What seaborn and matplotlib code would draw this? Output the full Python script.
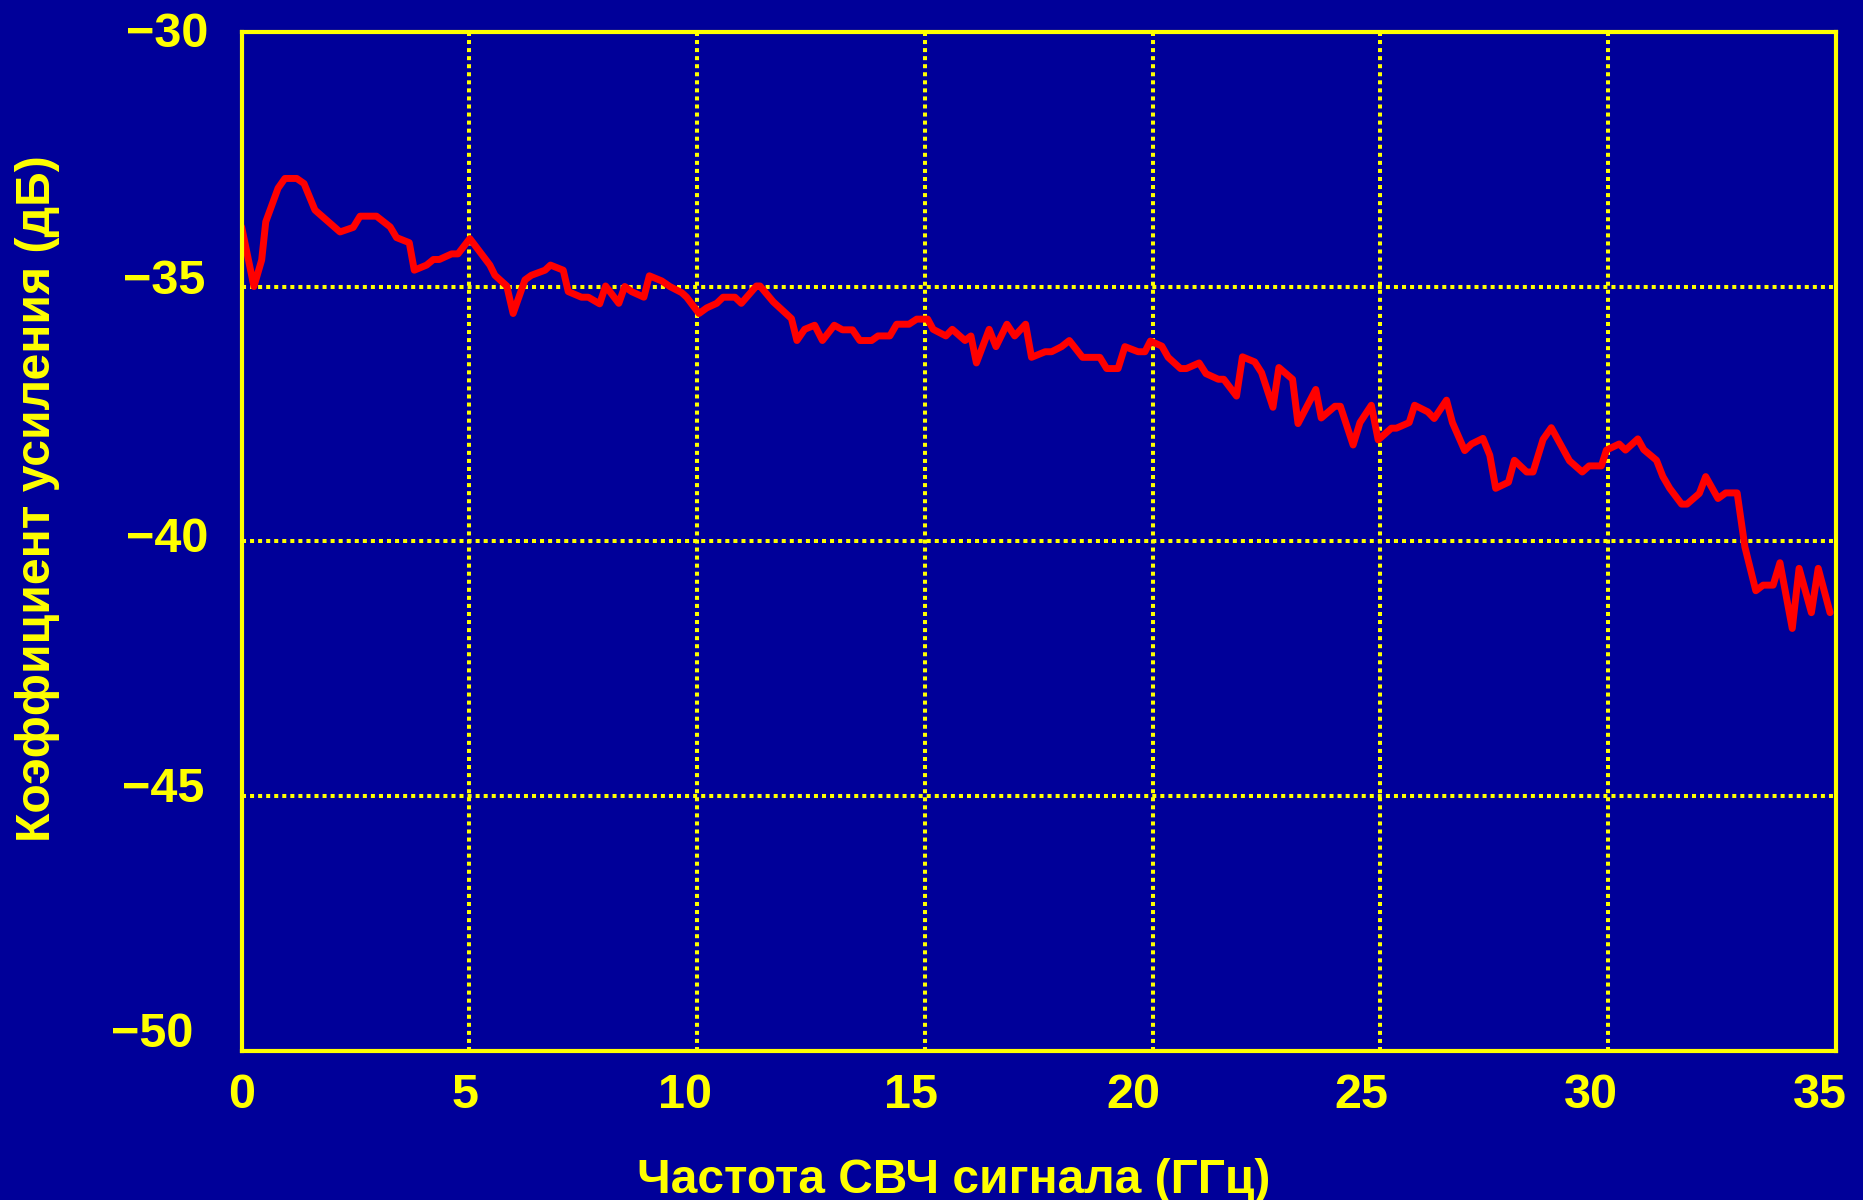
import matplotlib
matplotlib.use("Agg")
import matplotlib.pyplot as plt
import matplotlib.transforms as mtransforms
import seaborn as sns
import pandas as pd

# Gain of the microwave path versus frequency
freq_ghz = [
    0.00, 0.27, 0.44, 0.53, 0.80, 0.95, 1.21, 1.37, 1.61, 2.16, 2.45, 2.60, 2.96, 3.26,
    3.40, 3.68, 3.79, 4.06, 4.21, 4.34, 4.61, 4.75, 5.01, 5.45, 5.56, 5.82, 5.96, 6.22,
    6.36, 6.66, 6.78, 7.06, 7.17, 7.46, 7.61, 7.86, 7.99, 8.28, 8.41, 8.56, 8.83, 8.95,
    9.22, 9.40, 9.66, 9.77, 10.04, 10.21, 10.43, 10.57, 10.83, 10.97, 11.30, 11.38,
    11.67, 12.07, 12.19, 12.36, 12.58, 12.75, 13.01, 13.19, 13.41, 13.57, 13.83, 13.97,
    14.23, 14.38, 14.65, 14.82, 15.06, 15.18, 15.46, 15.60, 15.88, 16.01, 16.13, 16.41,
    16.56, 16.80, 16.97, 17.21, 17.34, 17.64, 17.78, 18.00, 18.17, 18.46, 18.84, 18.99,
    19.24, 19.39, 19.68, 19.83, 19.95, 20.20, 20.34, 20.61, 20.74, 21.02, 21.17, 21.44,
    21.56, 21.84, 21.97, 22.24, 22.39, 22.64, 22.77, 23.07, 23.19, 23.58, 23.70, 24.00,
    24.12, 24.40, 24.55, 24.80, 24.95, 25.24, 25.35, 25.63, 25.75, 26.04, 26.18, 26.45,
    26.58, 26.85, 27.00, 27.25, 27.40, 27.53, 27.81, 27.94, 28.21, 28.35, 28.57, 28.75,
    29.15, 29.43, 29.58, 29.85, 29.96, 30.24, 30.38, 30.65, 30.78, 31.06, 31.20, 31.35,
    31.61, 31.73, 32.00, 32.14, 32.41, 32.58, 32.83, 33.00, 33.24, 33.40, 33.62, 33.77,
    34.04, 34.19, 34.46, 34.61, 34.87,
]
gain_db = [
    -33.83, -35.00, -34.48, -33.73, -33.07, -32.88, -32.88, -32.98, -33.50, -33.93,
    -33.84, -33.62, -33.62, -33.83, -34.04, -34.14, -34.68, -34.58, -34.47, -34.47,
    -34.36, -34.36, -34.06, -34.58, -34.78, -34.99, -35.53, -34.87, -34.78, -34.68,
    -34.58, -34.68, -35.10, -35.21, -35.21, -35.34, -34.99, -35.33, -35.00, -35.10,
    -35.21, -34.79, -34.89, -35.00, -35.12, -35.21, -35.53, -35.42, -35.33, -35.21,
    -35.21, -35.33, -34.99, -34.99, -35.30, -35.63, -36.06, -35.84, -35.76, -36.06,
    -35.76, -35.85, -35.85, -36.06, -36.06, -35.97, -35.97, -35.74, -35.74, -35.64,
    -35.64, -35.84, -35.97, -35.84, -36.06, -35.97, -36.50, -35.84, -36.18, -35.74,
    -35.97, -35.74, -36.39, -36.28, -36.28, -36.18, -36.06, -36.39, -36.39, -36.61,
    -36.61, -36.18, -36.28, -36.28, -36.07, -36.17, -36.39, -36.61, -36.61, -36.50,
    -36.71, -36.82, -36.82, -37.15, -36.38, -36.48, -36.69, -37.37, -36.59, -36.82,
    -37.69, -37.02, -37.58, -37.35, -37.35, -38.11, -37.67, -37.33, -38.01, -37.78,
    -37.78, -37.67, -37.33, -37.46, -37.59, -37.23, -37.67, -38.22, -38.09, -37.98,
    -38.31, -38.96, -38.84, -38.41, -38.64, -38.64, -38.00, -37.77, -38.42, -38.64,
    -38.52, -38.52, -38.21, -38.09, -38.21, -37.99, -38.20, -38.41, -38.73, -38.96,
    -39.27, -39.27, -39.06, -38.73, -39.16, -39.05, -39.05, -40.11, -40.97, -40.86,
    -40.86, -40.42, -41.71, -40.53, -41.40, -40.53, -41.40,
]

x_ticks = [0, 5, 10, 15, 20, 25, 30, 35]
y_ticks = [-30, -35, -40, -45, -50]
x_label = "Частота СВЧ сигнала (ГГц)"
y_label = "Коэффициент усиления (дБ)"

# small hand-set nudges of the tick labels, in pixels
x_label_nudge = [0, -4, -12, -14, -19, -19, -17, -16]
y_label_nudge = [(0, 2), (-3, 10), (0, 7), (-4, 12), (-15, 21)]

BG = "#000099"
FG = "#FFFF00"
LINE = "#FF0000"

sns.set_style("dark")
plt.rcParams["font.family"] = ["Liberation Sans", "DejaVu Sans"]
plt.rcParams["font.weight"] = "bold"

df = pd.DataFrame({"freq": freq_ghz, "gain": gain_db})

fig = plt.figure(figsize=(18.63, 12.0), dpi=100, facecolor=BG)
ax = fig.add_axes([0.1297, 0.1242, 0.8558, 0.8494])
ax.set_facecolor(BG)

sns.lineplot(data=df, x="freq", y="gain", ax=ax, color=LINE, linewidth=5.0,
             sort=False, estimator=None, zorder=3)

ax.set_xlim(0, 35)
ax.set_ylim(-50, -30)
ax.set_xticks(x_ticks)
ax.set_yticks(y_ticks)

# dotted yellow grid on the inner ticks only
dots = (0, (1.0, 1.0))
for xv in x_ticks[1:-1]:
    ax.axvline(xv, color=FG, linewidth=2.9, linestyle=dots, zorder=1)
for yv in y_ticks[1:-1]:
    ax.axhline(yv, color=FG, linewidth=2.9, linestyle=dots, zorder=1)
ax.grid(False)

for sp in ax.spines.values():
    sp.set_visible(True)
    sp.set_color(FG)
    sp.set_linewidth(3.0)
    sp.set_zorder(4)

ax.tick_params(axis="both", length=0, labelcolor=FG, labelsize=35)
ax.tick_params(axis="x", pad=16)
ax.tick_params(axis="y", pad=24)

px = 1.0 / fig.dpi
for tick, dx in zip(ax.xaxis.get_major_ticks(), x_label_nudge):
    tick.label1.set_fontweight("bold")
    tick.label1.set_transform(tick.label1.get_transform() +
                              mtransforms.ScaledTranslation(dx * px, 0, fig.dpi_scale_trans))
for tick, (dx, dy) in zip(ax.yaxis.get_major_ticks(), y_label_nudge):
    tick.label1.set_fontweight("bold")
    tick.label1.set_transform(tick.label1.get_transform() +
                              mtransforms.ScaledTranslation(dx * px, dy * px, fig.dpi_scale_trans))

ax.set_xlabel(x_label, color=FG, fontsize=34.5, fontweight="bold", va="center")
ax.set_ylabel(y_label, color=FG, fontsize=34.7, fontweight="bold", va="center")
ax.xaxis.set_label_coords(0.4468, -0.1275)
ax.yaxis.set_label_coords(-0.1278, 0.5416)

fig.savefig("out.png", dpi=100, facecolor=BG)
